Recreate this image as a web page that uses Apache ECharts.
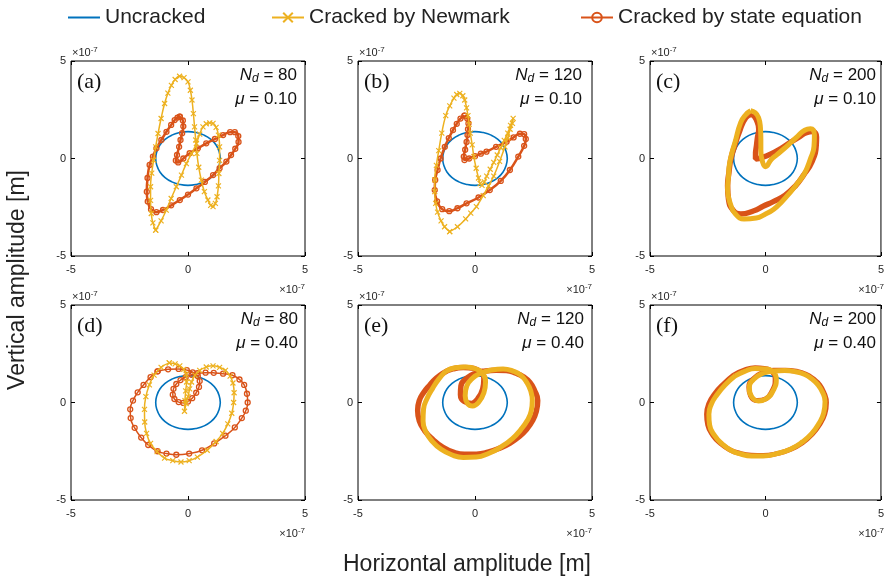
<!DOCTYPE html>
<html>
<head>
<meta charset="utf-8">
<title>Orbits</title>
<script src="https://cdn.jsdelivr.net/npm/echarts@6/dist/echarts.min.js"></script>
<style>
html, body { margin: 0; padding: 0; background: #fff; }
#main { width: 887px; height: 582px; }
</style>
</head>
<body>
<div id="main"></div>
<script type="text/javascript">
// amplitudes in units of 1e-7 m, pairs are [horizontal, vertical]
var axisTicks = [-5, 0, 5];

var uncracked = [[1.38,0],[1.33,0.36],[1.2,0.69],[0.98,0.98],[0.69,1.2],[0.36,1.33],[0,1.38],[-0.36,1.33],[-0.69,1.2],
	[-0.98,0.98],[-1.2,0.69],[-1.33,0.36],[-1.38,0],[-1.33,-0.36],[-1.2,-0.69],[-0.98,-0.98],[-0.69,-1.2],[-0.36,-1.33],
	[0,-1.38],[0.36,-1.33],[0.69,-1.2],[0.98,-0.98],[1.2,-0.69],[1.33,-0.36],[1.38,0]];

// (a) Nd = 80, mu = 0.10
var stateA = [[-0.35,2.14],[-0.22,1.95],[-0.2,1.65],[-0.25,1.3],[-0.32,0.95],[-0.38,0.6],[-0.47,0.18],[-0.52,-0.1],
	[-0.42,-0.2],[-0.2,0.0],[0.07,0.27],[0.42,0.52],[0.78,0.78],[1.15,1.0],[1.5,1.2],[1.8,1.35],[2.0,1.35],[2.15,1.15],
	[2.16,0.85],[2.02,0.5],[1.84,0.18],[1.64,-0.16],[1.35,-0.5],[1.07,-0.85],[0.72,-1.2],[0.36,-1.53],[0.0,-1.85],
	[-0.35,-2.13],[-0.72,-2.4],[-1.07,-2.64],[-1.35,-2.75],[-1.58,-2.6],[-1.72,-2.2],[-1.76,-1.7],[-1.73,-1.0],
	[-1.64,-0.33],[-1.5,0.1],[-1.35,0.52],[-1.14,0.95],[-0.92,1.37],[-0.72,1.72],[-0.57,1.97],[-0.45,2.1],[-0.35,2.14]];
var newmarkA = [[-1.38,-3.67],[-1.5,-3.3],[-1.57,-2.82],[-1.6,-2.15],[-1.6,-1.45],[-1.55,-0.75],[-1.47,-0.09],[-1.38,0.6],
	[-1.28,1.28],[-1.15,2.05],[-1.0,2.82],[-0.86,3.35],[-0.71,3.75],[-0.55,4.05],[-0.36,4.22],[-0.17,4.15],[0.0,3.93],
	[0.1,3.5],[0.17,3.0],[0.23,2.3],[0.28,1.62],[0.33,0.95],[0.38,0.26],[0.46,-0.45],[0.57,-1.11],[0.7,-1.7],[0.85,-2.13],
	[0.97,-2.4],[1.07,-2.47],[1.17,-2.3],[1.24,-1.96],[1.3,-1.4],[1.32,-0.77],[1.35,-0.1],[1.35,0.6],[1.3,1.2],[1.2,1.6],
	[1.07,1.8],[0.93,1.83],[0.78,1.78],[0.64,1.62],[0.5,1.25],[0.36,0.77],[0.15,0.25],[-0.07,-0.26],[-0.28,-0.85],
	[-0.5,-1.45],[-0.72,-2.05],[-0.93,-2.65],[-1.15,-3.2],[-1.38,-3.67]];

// (b) Nd = 120, mu = 0.10
var stateB = [[-0.45,2.2],[-0.33,2.05],[-0.28,1.8],[-0.3,1.5],[-0.32,1.2],[-0.36,0.85],[-0.42,0.45],[-0.48,0.1],
	[-0.45,-0.08],[-0.25,0.0],[0.0,0.12],[0.25,0.25],[0.49,0.35],[0.9,0.6],[1.35,0.86],[1.65,1.08],[1.92,1.27],[2.1,1.25],
	[2.17,1.0],[2.1,0.65],[1.85,0.1],[1.49,-0.59],[1.1,-1.15],[0.63,-1.62],[0.15,-2.0],[-0.36,-2.3],[-0.75,-2.55],
	[-1.1,-2.7],[-1.4,-2.6],[-1.62,-2.2],[-1.72,-1.62],[-1.7,-1.1],[-1.6,-0.59],[-1.47,0.0],[-1.29,0.6],[-1.12,1.05],
	[-0.94,1.46],[-0.78,1.78],[-0.62,2.05],[-0.45,2.2]];
var newmarkB = [[-1.08,-3.75],[-1.3,-3.5],[-1.45,-3.2],[-1.6,-2.75],[-1.68,-2.3],[-1.72,-1.7],[-1.72,-1.1],[-1.65,-0.35],
	[-1.55,0.4],[-1.42,1.3],[-1.25,2.2],[-1.08,2.7],[-0.9,3.1],[-0.78,3.28],[-0.65,3.34],[-0.52,3.22],[-0.44,3.0],
	[-0.36,2.6],[-0.3,2.2],[-0.25,1.75],[-0.2,1.3],[-0.12,0.7],[-0.05,0.1],[0.05,-0.5],[0.15,-1.0],[0.22,-1.28],[0.3,-1.38],
	[0.4,-1.2],[0.5,-0.9],[0.65,-0.55],[0.8,-0.2],[0.95,0.18],[1.1,0.55],[1.25,0.93],[1.4,1.3],[1.52,1.7],[1.63,2.06],
	[1.6,1.8],[1.5,1.5],[1.4,1.05],[1.28,0.6],[1.05,-0.15],[0.8,-0.9],[0.58,-1.4],[0.35,-1.9],[0.06,-2.47],[-0.18,-2.8],
	[-0.4,-3.1],[-0.75,-3.5],[-1.08,-3.75]];

// (c) Nd = 200, mu = 0.10
var stateC = [[-0.57,2.27],[-0.4,2.0],[-0.29,1.5],[-0.35,1.05],[-0.39,0.65],[-0.43,0.2],[-0.43,-0.03],[-0.15,0.05],
	[0.21,0.22],[0.65,0.5],[1.07,0.82],[1.45,1.1],[1.78,1.33],[2.05,1.38],[2.21,1.1],[2.2,0.7],[2.0,-0.2],[1.65,-0.85],
	[1.3,-1.4],[0.85,-1.88],[0.36,-2.2],[-0.1,-2.45],[-0.5,-2.68],[-1.07,-2.85],[-1.4,-2.65],[-1.6,-2.1],[-1.64,-1.4],
	[-1.58,-0.7],[-1.5,-0.03],[-1.32,0.7],[-1.14,1.33],[-0.85,2.1],[-0.57,2.27]];
var newmarkC = [[-0.64,2.45],[-0.45,2.35],[-0.3,2.1],[-0.22,1.6],[-0.2,1.0],[-0.2,0.4],[-0.12,-0.2],[0.0,-0.42],
	[0.25,-0.05],[0.5,0.2],[0.8,0.5],[1.1,0.82],[1.4,1.15],[1.7,1.45],[1.95,1.52],[2.12,1.2],[2.1,0.6],[1.95,0.0],
	[1.71,-0.72],[1.4,-1.25],[1.07,-1.74],[0.72,-2.2],[0.36,-2.6],[-0.05,-2.88],[-0.4,-3.05],[-0.93,-3.1],[-1.3,-2.85],
	[-1.5,-2.4],[-1.64,-1.57],[-1.6,-0.9],[-1.57,-0.38],[-1.45,0.3],[-1.32,0.82],[-1.07,1.85],[-0.85,2.25],[-0.64,2.45]];

// (d) Nd = 80, mu = 0.40
var stateD = [[-1.3,1.6],[-0.85,1.7],[-0.4,1.72],[-0.05,1.66],[0.2,1.55],[0.42,1.35],[0.5,1.1],[0.47,0.8],[0.35,0.5],
	[0.18,0.22],[0.0,0.05],[-0.2,-0.02],[-0.4,0.02],[-0.58,0.18],[-0.65,0.4],[-0.62,0.7],[-0.5,0.95],[-0.32,1.15],
	[-0.1,1.3],[0.15,1.42],[0.4,1.5],[0.75,1.53],[1.1,1.52],[1.5,1.48],[1.9,1.4],[2.2,1.18],[2.4,0.9],[2.52,0.45],
	[2.55,0.0],[2.47,-0.42],[2.3,-0.8],[2.0,-1.28],[1.6,-1.7],[1.12,-2.1],[0.6,-2.45],[0.05,-2.62],[-0.5,-2.68],
	[-0.92,-2.62],[-1.3,-2.5],[-1.7,-2.18],[-2.0,-1.8],[-2.28,-1.3],[-2.45,-0.8],[-2.47,-0.35],[-2.35,0.1],[-2.15,0.52],
	[-1.9,0.9],[-1.6,1.3],[-1.3,1.6]];
var newmarkD = [[-0.8,2.03],[-0.55,1.98],[-0.35,1.88],[-0.18,1.7],[-0.08,1.45],[-0.06,1.05],[-0.1,0.6],[-0.13,0.1],
	[-0.15,-0.45],[-0.08,-0.05],[0.0,0.3],[0.07,0.7],[0.15,1.05],[0.3,1.4],[0.5,1.65],[0.78,1.82],[1.07,1.88],[1.35,1.8],
	[1.6,1.65],[1.8,1.35],[1.92,1.0],[1.97,0.5],[1.95,0.0],[1.87,-0.55],[1.7,-1.1],[1.48,-1.58],[1.2,-2.0],[0.82,-2.45],
	[0.4,-2.8],[0.05,-2.98],[-0.3,-3.05],[-0.65,-2.98],[-1.0,-2.85],[-1.32,-2.52],[-1.6,-2.1],[-1.77,-1.58],[-1.85,-1.0],
	[-1.86,-0.35],[-1.8,0.3],[-1.65,0.9],[-1.45,1.4],[-1.15,1.8],[-0.8,2.03]];

// (e) Nd = 120, mu = 0.40
var stateE = [[-1.36,1.51],[-0.95,1.72],[-0.5,1.8],[-0.05,1.75],[0.25,1.55],[0.38,1.2],[0.33,0.7],[0.12,0.2],[-0.15,-0.05],
	[-0.45,0.05],[-0.62,0.4],[-0.6,0.85],[-0.35,1.25],[0.0,1.5],[0.45,1.62],[0.9,1.66],[1.34,1.64],[1.75,1.5],[2.05,1.33],
	[2.35,1.02],[2.55,0.6],[2.68,0.1],[2.62,-0.45],[2.45,-0.95],[2.2,-1.38],[1.9,-1.74],[1.5,-2.08],[1.06,-2.34],
	[0.55,-2.55],[0.06,-2.65],[-0.45,-2.66],[-0.93,-2.55],[-1.4,-2.28],[-1.79,-1.91],[-2.15,-1.45],[-2.38,-0.95],
	[-2.45,-0.4],[-2.38,0.1],[-2.2,0.5],[-1.93,0.9],[-1.65,1.25],[-1.36,1.51]];
var newmarkE = [[-1.25,1.6],[-0.85,1.78],[-0.4,1.82],[0.05,1.72],[0.35,1.45],[0.45,1.05],[0.38,0.5],[0.15,0.0],
	[-0.1,-0.18],[-0.32,-0.05],[-0.42,0.35],[-0.35,0.85],[-0.1,1.25],[0.25,1.5],[0.7,1.66],[1.2,1.72],[1.65,1.6],
	[1.95,1.4],[2.2,1.05],[2.38,0.6],[2.45,0.1],[2.4,-0.45],[2.22,-0.95],[1.95,-1.4],[1.6,-1.85],[1.15,-2.25],[0.6,-2.6],
	[0.05,-2.8],[-0.5,-2.82],[-1.0,-2.68],[-1.45,-2.4],[-1.82,-2.0],[-2.1,-1.5],[-2.22,-0.95],[-2.2,-0.35],[-2.05,0.2],
	[-1.8,0.75],[-1.55,1.2],[-1.25,1.6]];

// (f) Nd = 200, mu = 0.40
var stateF = [[-1.36,1.42],[-0.92,1.66],[-0.45,1.78],[-0.05,1.75],[0.3,1.55],[0.42,1.18],[0.3,0.62],[0.0,0.18],
	[-0.35,0.1],[-0.65,0.35],[-0.72,0.8],[-0.5,1.25],[-0.1,1.55],[0.35,1.66],[0.85,1.66],[1.35,1.6],[1.75,1.45],
	[2.08,1.2],[2.35,0.9],[2.55,0.45],[2.64,0.0],[2.57,-0.58],[2.35,-1.12],[2.03,-1.62],[1.62,-2.05],[1.1,-2.4],
	[0.5,-2.62],[-0.1,-2.72],[-0.62,-2.7],[-1.12,-2.6],[-1.55,-2.42],[-1.95,-2.1],[-2.28,-1.68],[-2.5,-1.15],[-2.55,-0.6],
	[-2.45,-0.05],[-2.2,0.45],[-1.82,0.95],[-1.36,1.42]];
var newmarkF = [[-1.31,1.37],[-0.9,1.6],[-0.45,1.74],[0.0,1.72],[0.35,1.55],[0.47,1.2],[0.35,0.65],[0.05,0.2],
	[-0.3,0.08],[-0.6,0.3],[-0.7,0.75],[-0.5,1.2],[-0.1,1.5],[0.35,1.62],[0.83,1.64],[1.3,1.58],[1.68,1.45],[2.0,1.22],
	[2.25,0.94],[2.48,0.5],[2.58,0.05],[2.52,-0.55],[2.3,-1.1],[2.0,-1.6],[1.6,-2.02],[1.1,-2.38],[0.5,-2.62],
	[-0.1,-2.74],[-0.6,-2.74],[-1.1,-2.63],[-1.5,-2.45],[-1.88,-2.12],[-2.2,-1.7],[-2.42,-1.15],[-2.45,-0.6],
	[-2.35,-0.1],[-2.1,0.4],[-1.75,0.9],[-1.31,1.37]];

var panels = [
	{ tag: '(a)', nd: '80', mu: '0.10', state: stateA, newmark: newmarkA },
	{ tag: '(b)', nd: '120', mu: '0.10', state: stateB, newmark: newmarkB },
	{ tag: '(c)', nd: '200', mu: '0.10', state: stateC, newmark: newmarkC },
	{ tag: '(d)', nd: '80', mu: '0.40', state: stateD, newmark: newmarkD },
	{ tag: '(e)', nd: '120', mu: '0.40', state: stateE, newmark: newmarkE },
	{ tag: '(f)', nd: '200', mu: '0.40', state: stateF, newmark: newmarkF }
];

var gridLeft = [71, 358, 650], gridTop = [61, 305], gridW = 234, gridH = 195;
var textRight = [297, 582, 876, 298, 584, 876];
var stateWidth = [2.5, 2.5, 5.5, 1.5, 5.5, 5];
var newmarkWidth = [1.5, 1.5, 5, 1.5, 5, 5];
var markers = [true, true, false, true, false, false];

var sans = 'Liberation Sans, Arial, Helvetica, sans-serif';
var blue = '#0072BD', orange = '#D95319', yellow = '#EDB120';
var crossPath = 'path://M0,0L10,10M0,10L10,0';

var chart = echarts.init(document.getElementById('main'));
var grids = [], xAxes = [], yAxes = [], series = [], graphics = [];

function tickAxis(i, pos, labels) {
	return {
		type: 'value', gridIndex: i, position: pos,
		min: axisTicks[0], max: axisTicks[2], interval: axisTicks[1] - axisTicks[0],
		axisLine: { show: false, onZero: false },
		axisTick: { inside: true, length: 4, lineStyle: { color: '#000', width: 1 } },
		axisLabel: { show: labels, color: '#262626', fontSize: 11, fontFamily: sans, margin: (pos === 'bottom' ? 8 : 5) },
		splitLine: { show: false }
	};
}

function expLabel(x, y, align) {
	return {
		type: 'text', x: x, y: y, silent: true,
		style: {
			text: '{a|×10}{b|-7}', align: align, verticalAlign: 'middle',
			rich: {
				a: { fontSize: 11, fontFamily: sans, fill: '#262626', lineHeight: 14 },
				b: { fontSize: 8, fontFamily: sans, fill: '#262626', lineHeight: 14, padding: [0, 0, 7, 0] }
			}
		}
	};
}

panels.forEach(function(p, i) {
	var col = i % 3, row = Math.floor(i / 3);
	var gl = gridLeft[col], gt = gridTop[row];
	grids.push({ left: gl, top: gt, width: gridW, height: gridH, show: true,
		borderColor: '#000', borderWidth: 1, backgroundColor: '#fff' });
	xAxes.push(tickAxis(i, 'bottom', true));
	xAxes.push(tickAxis(i, 'top', false));
	yAxes.push(tickAxis(i, 'left', true));
	yAxes.push(tickAxis(i, 'right', false));

	series.push({
		name: 'Uncracked', type: 'line', xAxisIndex: 2 * i, yAxisIndex: 2 * i,
		data: uncracked, smooth: true, showSymbol: false, symbol: 'none',
		lineStyle: { color: blue, width: 1.6 }, itemStyle: { color: blue }, z: 2
	});
	series.push({
		name: 'Cracked by state equation', type: 'line', xAxisIndex: 2 * i, yAxisIndex: 2 * i,
		data: p.state, smooth: true, symbol: 'circle', symbolSize: 5, showSymbol: markers[i],
		lineStyle: { color: orange, width: stateWidth[i] },
		itemStyle: { color: 'rgba(255,255,255,0)', borderColor: orange, borderWidth: 1.3 }, z: 3
	});
	series.push({
		name: 'Cracked by Newmark', type: 'line', xAxisIndex: 2 * i, yAxisIndex: 2 * i,
		data: p.newmark, smooth: true, symbol: crossPath, symbolSize: 5, showSymbol: markers[i],
		lineStyle: { color: yellow, width: newmarkWidth[i] },
		itemStyle: { color: 'rgba(255,255,255,0)', borderColor: yellow, borderWidth: 1.2 }, z: 4
	});

	graphics.push({
		type: 'text', x: gl + 6, y: gt + 21, silent: true,
		style: { text: p.tag, font: '22px "Liberation Serif", "Times New Roman", serif', fill: '#111', verticalAlign: 'middle' }
	});
	graphics.push({
		type: 'text', x: textRight[i], y: gt + 14, silent: true,
		style: {
			text: '{i|N}{s|d}{n| = ' + p.nd + '}', align: 'right', verticalAlign: 'middle',
			rich: {
				i: { fontSize: 17, fontFamily: sans, fontStyle: 'italic', fill: '#111', lineHeight: 20 },
				s: { fontSize: 12, fontFamily: sans, fontStyle: 'italic', fill: '#111', lineHeight: 12, padding: [8, 0, 0, 0] },
				n: { fontSize: 17, fontFamily: sans, fill: '#111', lineHeight: 20 }
			}
		}
	});
	graphics.push({
		type: 'text', x: textRight[i], y: gt + 38, silent: true,
		style: {
			text: '{i|μ}{n| = ' + p.mu + '}', align: 'right', verticalAlign: 'middle',
			rich: {
				i: { fontSize: 17, fontFamily: sans, fontStyle: 'italic', fill: '#111', lineHeight: 20 },
				n: { fontSize: 17, fontFamily: sans, fill: '#111', lineHeight: 20 }
			}
		}
	});
	graphics.push(expLabel(gl + 1, gt - 8, 'left'));
	graphics.push(expLabel(gl + gridW, gt + gridH + 34, 'right'));
});

graphics.push({
	type: 'text', x: 18, y: 280, rotation: Math.PI / 2, silent: true,
	style: { text: 'Vertical amplitude [m]', fontSize: 23, fontFamily: sans, fill: '#222', align: 'center', verticalAlign: 'middle' }
});
graphics.push({
	type: 'text', x: 467, y: 565, silent: true,
	style: { text: 'Horizontal amplitude [m]', fontSize: 23, fontFamily: sans, fill: '#222', align: 'center', verticalAlign: 'middle' }
});

function legendAt(left, item, h) {
	return {
		left: left, top: 2, itemWidth: 32, itemHeight: h, selectedMode: false,
		data: [item], textStyle: { fontSize: 21, fontFamily: sans, color: '#222' }
	};
}

var option = {
	animation: false,
	backgroundColor: '#fff',
	legend: [
		legendAt(63, { name: 'Uncracked', icon: 'rect', itemStyle: { color: blue } }, 2),
		legendAt(266, 'Cracked by Newmark', 12),
		legendAt(575, 'Cracked by state equation', 12)
	],
	grid: grids,
	xAxis: xAxes,
	yAxis: yAxes,
	series: series,
	graphic: graphics
};
chart.setOption(option);
</script>
</body>
</html>
